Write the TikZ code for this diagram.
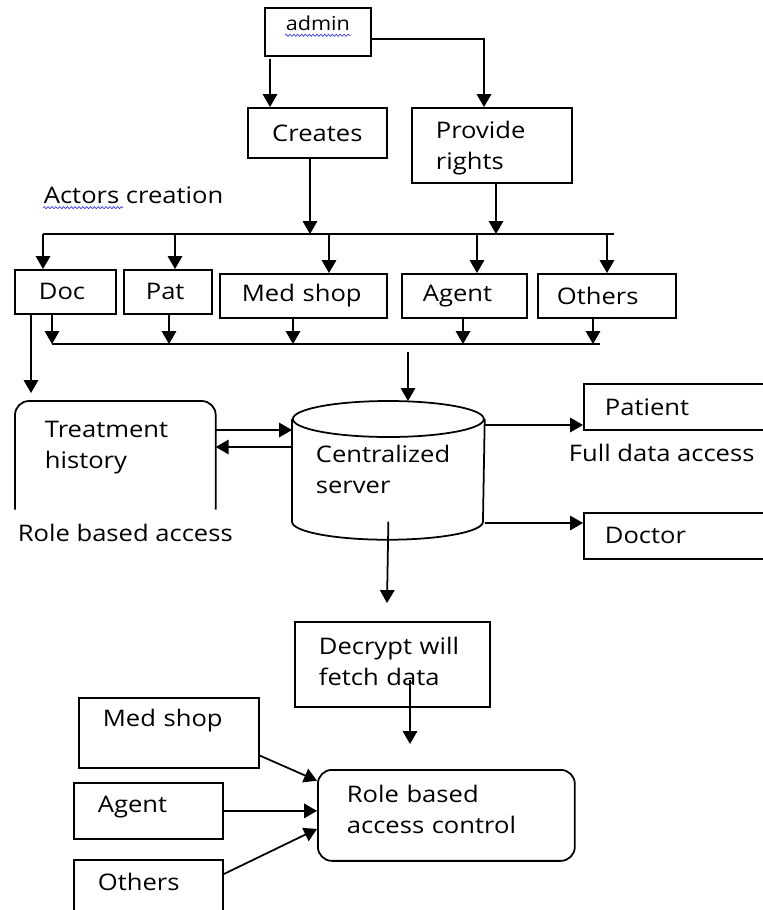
\documentclass[tikz,border=0pt]{standalone}
\usepackage{fontspec}
\setmainfont[FakeStretch=1.12]{Open Sans}
\usepackage{tikz}
\definecolor{spellblue}{HTML}{3B3BF0}
\usetikzlibrary{arrows,decorations.pathmorphing}
\tikzstyle{blk}=[draw=black, rectangle, anchor=north west, inner ysep=0pt, align=left]
\tikzstyle{txt}=[anchor=west, inner sep=0pt]
\tikzstyle{spell}=[draw=spellblue, thin, decorate, decoration={snake, amplitude=0.6pt, segment length=2.2pt}]

\begin{document}
\begin{tikzpicture}[line width=1pt, >=triangle 60, x=0.02cm, y=-0.02cm, font=\fontsize{13}{17.6}\selectfont]
\useasboundingbox (0,0) rectangle (762,910);
\node[blk, align=center, text width=2.12cm, inner xsep=0pt, text height=0.46cm, text depth=0.5cm, font=\fontsize{11}{13}\selectfont] (adm) at (264,7) {admin};
\node[blk, align=center, text width=2.78cm, inner xsep=0pt, minimum height=1cm] (crt) at (247,107) {Creates};
\node[blk, text width=2.24cm, inner xsep=0.48cm, text height=0.62cm, text depth=0.88cm] (rgt) at (411,107) {Provide\\rights};
\node[txt] (act) at (43,195) {Actors creation};
\node[blk, text width=1.06cm, inner xsep=0.48cm, minimum height=0.88cm] (doc) at (14,269) {Doc};
\node[blk, text width=0.88cm, inner xsep=0.44cm, minimum height=0.88cm] (pat) at (123,269) {Pat};
\node[blk, text width=2.46cm, inner xsep=0.44cm, minimum height=0.88cm] (med) at (219,273) {Med shop};
\node[blk, text width=1.66cm, inner xsep=0.42cm, minimum height=0.88cm] (agt) at (401,273) {Agent};
\node[blk, text width=2.0cm, inner xsep=0.38cm, minimum height=0.88cm] (oth) at (537,273) {Others};
\node[blk, draw=none, text width=2.82cm, inner xsep=0.58cm, text height=0.72cm, text depth=1.42cm] (trt) at (15,401) {Treatment\\history};
\node[txt] (rba) at (17,533) {Role based access};
\node[blk, draw=none, text width=2.9cm, inner xsep=0.46cm, text height=0.86cm, text depth=1.16cm] (srv) at (292,419) {Centralized\\server};
\node[blk, text width=3.0cm, inner xsep=0.42cm, minimum height=0.92cm] (pat2) at (583,383) {Patient};
\node[txt] (fda) at (568,453) {Full data access};
\node[blk, text width=3.0cm, inner xsep=0.42cm, minimum height=0.92cm] (doc2) at (583,512) {Doctor};
\node[blk, text width=2.94cm, inner xsep=0.48cm, text height=0.66cm, text depth=1.04cm] (dec) at (294,621) {Decrypt will\\fetch data};
\node[blk, rounded corners=8pt, text width=3.98cm, inner xsep=0.58cm, text height=0.66cm, text depth=1.16cm] (rol) at (317,769) {Role based\\access control};
\node[blk, text width=2.64cm, inner xsep=0.48cm, text height=0.58cm, text depth=0.82cm] (med2) at (78,697) {Med shop};
\node[blk, text width=2.02cm, inner xsep=0.48cm, text height=0.6cm, text depth=0.52cm] (agt2) at (73,782) {Agent};
\node[blk, text width=2.02cm, inner xsep=0.48cm, text height=0.62cm, text depth=0.7cm] (oth2) at (73,859) {Others};

\draw[spell] ([xshift=-0.66cm, yshift=-2.5pt]adm.base) -- ++(1.32cm,0);
\draw[spell] ([yshift=-2.5pt]act.base west) -- ++(1.6cm,0);

\draw[rounded corners=8pt] (trt.south west) -- (trt.north west) -- (trt.north east) -- (trt.south east);
\draw (srv.north west) -- (srv.south west) arc[start angle=180, end angle=360, x radius=1.91cm, y radius=0.36cm] -- (srv.north east);
\draw (srv.north) ellipse [x radius=1.91cm, y radius=0.36cm];
\coordinate (srvtop) at ([yshift=0.36cm]srv.north);

\coordinate (a1) at (270,59);
\coordinate (a2) at (484,39);
\draw[->] (a1) -- (a1 |- crt.north);
\draw[->] (a2 -| adm.east) -- (a2) -- (a2 |- rgt.north);

\coordinate (b1) at (43,234);
\coordinate (b2) at (614,234);
\coordinate (c1) at (310,234);
\coordinate (c2) at (496,234);
\coordinate (p1) at (175,234);
\coordinate (p2) at (329,234);
\coordinate (p3) at (477,234);
\coordinate (p4) at (607,234);
\draw (b1) -- (b2);
\draw[->] (c1 |- crt.south) -- (c1);
\draw[->] (c2 |- rgt.south) -- (c2);
\draw[->] (b1) -- (b1 |- doc.north);
\draw[->] (p1) -- (p1 |- pat.north);
\draw[->] (p2) -- (p2 |- med.north);
\draw[->] (p3) -- (p3 |- agt.north);
\draw[->] (p4) -- (p4 |- oth.north);

\coordinate (l1) at (52,344);
\coordinate (l2) at (600,344);
\coordinate (q1) at (169,344);
\coordinate (q2) at (293,344);
\coordinate (q3) at (463,344);
\coordinate (q4) at (593,344);
\draw (l1) -- (l2);
\draw[->] (l1 |- doc.south) -- (l1);
\draw[->] (q1 |- pat.south) -- (q1);
\draw[->] (q2 |- med.south) -- (q2);
\draw[->] (q3 |- agt.south) -- (q3);
\draw[->] (q4 |- oth.south) -- (q4);

\coordinate (t1) at (31,393);
\coordinate (s1) at (408,352);
\draw[->] (t1 |- doc.south) -- (t1);
\draw[->] (s1) -- (s1 |- srvtop);
\draw[->] (trt.east |- 0,430) -- (srv.west |- 0,430);
\draw[->] (srv.west |- 0,447) -- (trt.east |- 0,447);
\draw[->] (srv.east |- 0,425) -- (pat2.west |- 0,425);
\draw[->] (srv.east |- 0,523) -- (doc2.west |- 0,523);

\coordinate (d3) at (387,603);
\coordinate (d4a) at (410,680);
\coordinate (d4b) at (410,744);
\draw[->] (srv.south) -- (d3);
\draw[->] (d4a) -- (d4b);
\draw[->] (med2.-14) -- (rol.165);
\draw[->] (agt2.east) -- (agt2.east -| rol.west);
\draw[->] (oth2.14) -- (rol.186);
\end{tikzpicture}
\end{document}
